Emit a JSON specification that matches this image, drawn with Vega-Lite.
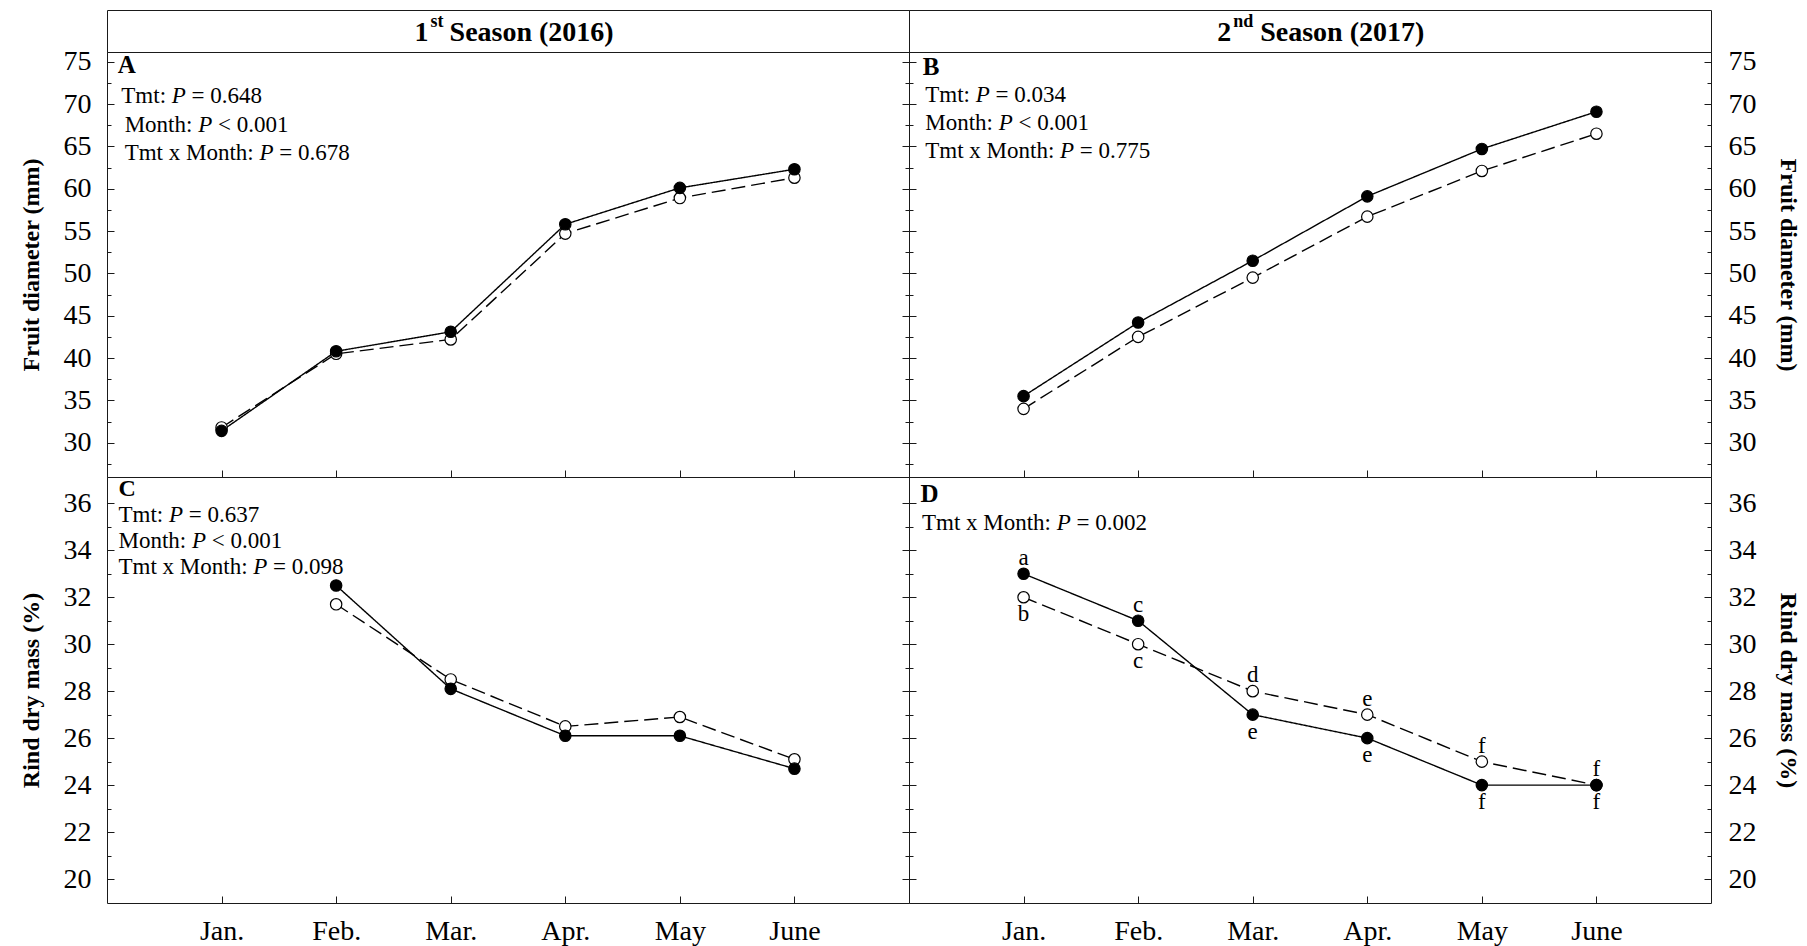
{
  "$schema": "https://vega.github.io/schema/vega-lite/v6.json",
  "background": "white",
  "padding": {"left": 18, "top": 9, "right": 0, "bottom": 0},
  "datasets": {
    "pts": [
      {"panel": "A", "m": 1, "series": "open", "value": 31.8},
      {"panel": "A", "m": 2, "series": "open", "value": 40.5},
      {"panel": "A", "m": 3, "series": "open", "value": 42.2},
      {"panel": "A", "m": 4, "series": "open", "value": 54.7},
      {"panel": "A", "m": 5, "series": "open", "value": 58.9},
      {"panel": "A", "m": 6, "series": "open", "value": 61.3},
      {"panel": "A", "m": 1, "series": "closed", "value": 31.4},
      {"panel": "A", "m": 2, "series": "closed", "value": 40.8},
      {"panel": "A", "m": 3, "series": "closed", "value": 43.1},
      {"panel": "A", "m": 4, "series": "closed", "value": 55.8},
      {"panel": "A", "m": 5, "series": "closed", "value": 60.1},
      {"panel": "A", "m": 6, "series": "closed", "value": 62.3},
      {"panel": "B", "m": 1, "series": "open", "value": 34.0},
      {"panel": "B", "m": 2, "series": "open", "value": 42.5},
      {"panel": "B", "m": 3, "series": "open", "value": 49.5},
      {"panel": "B", "m": 4, "series": "open", "value": 56.7},
      {"panel": "B", "m": 5, "series": "open", "value": 62.1},
      {"panel": "B", "m": 6, "series": "open", "value": 66.5},
      {"panel": "B", "m": 1, "series": "closed", "value": 35.5},
      {"panel": "B", "m": 2, "series": "closed", "value": 44.2},
      {"panel": "B", "m": 3, "series": "closed", "value": 51.5},
      {"panel": "B", "m": 4, "series": "closed", "value": 59.1},
      {"panel": "B", "m": 5, "series": "closed", "value": 64.7},
      {"panel": "B", "m": 6, "series": "closed", "value": 69.1},
      {"panel": "C", "m": 2, "series": "open", "value": 31.7},
      {"panel": "C", "m": 3, "series": "open", "value": 28.5},
      {"panel": "C", "m": 4, "series": "open", "value": 26.5},
      {"panel": "C", "m": 5, "series": "open", "value": 26.9},
      {"panel": "C", "m": 6, "series": "open", "value": 25.1},
      {"panel": "C", "m": 2, "series": "closed", "value": 32.5},
      {"panel": "C", "m": 3, "series": "closed", "value": 28.1},
      {"panel": "C", "m": 4, "series": "closed", "value": 26.1},
      {"panel": "C", "m": 5, "series": "closed", "value": 26.1},
      {"panel": "C", "m": 6, "series": "closed", "value": 24.7},
      {"panel": "D", "m": 1, "series": "open", "value": 32, "letter": "b", "side": "below"},
      {"panel": "D", "m": 2, "series": "open", "value": 30, "letter": "c", "side": "below"},
      {"panel": "D", "m": 3, "series": "open", "value": 28, "letter": "d", "side": "above"},
      {"panel": "D", "m": 4, "series": "open", "value": 27, "letter": "e", "side": "above"},
      {"panel": "D", "m": 5, "series": "open", "value": 25, "letter": "f", "side": "above"},
      {"panel": "D", "m": 6, "series": "open", "value": 24, "letter": "f", "side": "above"},
      {"panel": "D", "m": 1, "series": "closed", "value": 33, "letter": "a", "side": "above"},
      {"panel": "D", "m": 2, "series": "closed", "value": 31, "letter": "c", "side": "above"},
      {"panel": "D", "m": 3, "series": "closed", "value": 27, "letter": "e", "side": "below"},
      {"panel": "D", "m": 4, "series": "closed", "value": 26, "letter": "e", "side": "below"},
      {"panel": "D", "m": 5, "series": "closed", "value": 24, "letter": "f", "side": "below"},
      {"panel": "D", "m": 6, "series": "closed", "value": 24, "letter": "f", "side": "below"}
    ]
  },
  "columns": 2,
  "spacing": 0,
  "bounds": "flush",
  "align": "each",
  "concat": [
    {
      "width": 802, "height": 42,
      "data": {"values": [{}]},
      "encoding": {"x": {"datum": 2.99, "type": "quantitative", "scale": {"domain": [0, 7], "nice": false}, "axis": null}},
      "layer": [
        {"mark": {"type": "text", "text": "Season (2016)", "align": "left", "baseline": "alphabetic", "dy": 10, "fontSize": 28, "fontWeight": "bold"}},
        {"mark": {"type": "text", "text": "st", "align": "right", "baseline": "alphabetic", "dx": -6, "dy": -4, "fontSize": 18, "fontWeight": "bold"}},
        {"mark": {"type": "text", "text": "1", "align": "right", "baseline": "alphabetic", "dx": -21, "dy": 10, "fontSize": 28, "fontWeight": "bold"}}
      ]
    },
    {
      "width": 802, "height": 42,
      "data": {"values": [{}]},
      "encoding": {"x": {"datum": 3.065, "type": "quantitative", "scale": {"domain": [0, 7], "nice": false}, "axis": null}},
      "layer": [
        {"mark": {"type": "text", "text": "Season (2017)", "align": "left", "baseline": "alphabetic", "dy": 10, "fontSize": 28, "fontWeight": "bold"}},
        {"mark": {"type": "text", "text": "nd", "align": "right", "baseline": "alphabetic", "dx": -7, "dy": -4, "fontSize": 18, "fontWeight": "bold"}},
        {"mark": {"type": "text", "text": "2", "align": "right", "baseline": "alphabetic", "dx": -29, "dy": 10, "fontSize": 28, "fontWeight": "bold"}}
      ]
    },
    {
      "width": 802, "height": 425,
      "data": {"name": "pts"},
      "transform": [{"filter": "datum.panel === 'A'"}],
      "layer": [
        {
          "layer": [
            {"mark": {"type": "line", "color": "black", "strokeWidth": 1.4},
             "encoding": {
               "x": {"field": "m", "type": "quantitative", "scale": {"domain": [0, 7], "nice": false},
                     "axis": {"orient": "bottom", "values": [1, 2, 3, 4, 5, 6], "tickSize": -7, "labels": false, "title": null}},
               "y": {"field": "value", "type": "quantitative", "scale": {"domain": [25.95, 76.15], "nice": false},
                     "axis": {"orient": "left", "values": [30, 35, 40, 45, 50, 55, 60, 65, 70, 75], "tickSize": -7, "labelPadding": 23, "title": "Fruit diameter (mm)", "titlePadding": 20}},
               "strokeDash": {"field": "series", "type": "nominal", "scale": {"domain": ["open", "closed"], "range": [[14, 6], [1, 0]]}, "legend": null}}},
            {"mark": {"type": "circle", "size": 130, "stroke": "black", "strokeWidth": 1.2, "opacity": 1},
             "encoding": {
               "x": {"field": "m", "type": "quantitative"},
               "y": {"field": "value", "type": "quantitative"},
               "fill": {"field": "series", "type": "nominal", "scale": {"domain": ["open", "closed"], "range": ["white", "black"]}, "legend": null}}},
            {"transform": [{"aggregate": [{"op": "count", "as": "n"}]}],
             "layer": [
               {"encoding": {"x": {"datum": 0.093, "type": "quantitative", "scale": {"domain": [0, 7], "nice": false}}, "y": {"datum": 73.7, "type": "quantitative", "scale": {"domain": [25.95, 76.15], "nice": false}}},
                "mark": {"type": "text", "text": "A", "fontWeight": "bold", "fontSize": 25}},
               {"encoding": {"x": {"datum": 0.125, "type": "quantitative", "scale": {"domain": [0, 7], "nice": false}}, "y": {"datum": 70.08, "type": "quantitative", "scale": {"domain": [25.95, 76.15], "nice": false}}},
                "layer": [
                  {"mark": {"type": "text", "text": "Tmt:"}},
                  {"mark": {"type": "text", "text": "P", "dx": 50.5, "fontStyle": "italic"}},
                  {"mark": {"type": "text", "text": "= 0.648", "dx": 70.3}}
                ]},
               {"encoding": {"x": {"datum": 0.154, "type": "quantitative", "scale": {"domain": [0, 7], "nice": false}}, "y": {"datum": 66.73, "type": "quantitative", "scale": {"domain": [25.95, 76.15], "nice": false}}},
                "layer": [
                  {"mark": {"type": "text", "text": "Month:"}},
                  {"mark": {"type": "text", "text": "P", "dx": 73.5, "fontStyle": "italic"}},
                  {"mark": {"type": "text", "text": "< 0.001", "dx": 93.3}}
                ]},
               {"encoding": {"x": {"datum": 0.154, "type": "quantitative", "scale": {"domain": [0, 7], "nice": false}}, "y": {"datum": 63.39, "type": "quantitative", "scale": {"domain": [25.95, 76.15], "nice": false}}},
                "layer": [
                  {"mark": {"type": "text", "text": "Tmt x Month:"}},
                  {"mark": {"type": "text", "text": "P", "dx": 134.8, "fontStyle": "italic"}},
                  {"mark": {"type": "text", "text": "= 0.678", "dx": 154.6}}
                ]}
             ]}
          ]
        },
        {"mark": {"type": "point", "opacity": 0},
         "encoding": {"x": {"field": "m", "type": "quantitative"},
                      "y": {"field": "value", "type": "quantitative", "axis": {"orient": "left", "values": [27.5, 32.5, 37.5, 42.5, 47.5, 52.5, 57.5, 62.5, 67.5, 72.5], "tickSize": -4, "labels": false, "title": null}}}},
        {"mark": {"type": "point", "opacity": 0},
         "encoding": {"x": {"field": "m", "type": "quantitative"},
                      "y": {"field": "value", "type": "quantitative", "axis": {"orient": "right", "values": [30, 35, 40, 45, 50, 55, 60, 65, 70, 75], "tickSize": -7, "labels": false, "title": null}}}},
        {"mark": {"type": "point", "opacity": 0},
         "encoding": {"x": {"field": "m", "type": "quantitative"},
                      "y": {"field": "value", "type": "quantitative", "axis": {"orient": "right", "values": [27.5, 32.5, 37.5, 42.5, 47.5, 52.5, 57.5, 62.5, 67.5, 72.5], "tickSize": -4, "labels": false, "title": null}}}}
      ],
      "resolve": {"axis": {"y": "independent"}}
    },
    {
      "width": 802, "height": 425,
      "data": {"name": "pts"},
      "transform": [{"filter": "datum.panel === 'B'"}],
      "layer": [
        {
          "layer": [
            {"mark": {"type": "line", "color": "black", "strokeWidth": 1.4},
             "encoding": {
               "x": {"field": "m", "type": "quantitative", "scale": {"domain": [0, 7], "nice": false},
                     "axis": {"orient": "bottom", "values": [1, 2, 3, 4, 5, 6], "tickSize": -7, "labels": false, "title": null}},
               "y": {"field": "value", "type": "quantitative", "scale": {"domain": [25.95, 76.15], "nice": false},
                     "axis": {"orient": "right", "values": [30, 35, 40, 45, 50, 55, 60, 65, 70, 75], "tickSize": -7, "labelPadding": 24, "title": "Fruit diameter (mm)", "titlePadding": 19}},
               "strokeDash": {"field": "series", "type": "nominal", "scale": {"domain": ["open", "closed"], "range": [[14, 6], [1, 0]]}, "legend": null}}},
            {"mark": {"type": "circle", "size": 130, "stroke": "black", "strokeWidth": 1.2, "opacity": 1},
             "encoding": {
               "x": {"field": "m", "type": "quantitative"},
               "y": {"field": "value", "type": "quantitative"},
               "fill": {"field": "series", "type": "nominal", "scale": {"domain": ["open", "closed"], "range": ["white", "black"]}, "legend": null}}},
            {"transform": [{"aggregate": [{"op": "count", "as": "n"}]}],
             "layer": [
               {"encoding": {"x": {"datum": 0.12, "type": "quantitative", "scale": {"domain": [0, 7], "nice": false}}, "y": {"datum": 73.45, "type": "quantitative", "scale": {"domain": [25.95, 76.15], "nice": false}}},
                "mark": {"type": "text", "text": "B", "fontWeight": "bold", "fontSize": 25}},
               {"encoding": {"x": {"datum": 0.142, "type": "quantitative", "scale": {"domain": [0, 7], "nice": false}}, "y": {"datum": 70.27, "type": "quantitative", "scale": {"domain": [25.95, 76.15], "nice": false}}},
                "layer": [
                  {"mark": {"type": "text", "text": "Tmt:"}},
                  {"mark": {"type": "text", "text": "P", "dx": 50.5, "fontStyle": "italic"}},
                  {"mark": {"type": "text", "text": "= 0.034", "dx": 70.3}}
                ]},
               {"encoding": {"x": {"datum": 0.142, "type": "quantitative", "scale": {"domain": [0, 7], "nice": false}}, "y": {"datum": 66.93, "type": "quantitative", "scale": {"domain": [25.95, 76.15], "nice": false}}},
                "layer": [
                  {"mark": {"type": "text", "text": "Month:"}},
                  {"mark": {"type": "text", "text": "P", "dx": 73.5, "fontStyle": "italic"}},
                  {"mark": {"type": "text", "text": "< 0.001", "dx": 93.3}}
                ]},
               {"encoding": {"x": {"datum": 0.142, "type": "quantitative", "scale": {"domain": [0, 7], "nice": false}}, "y": {"datum": 63.62, "type": "quantitative", "scale": {"domain": [25.95, 76.15], "nice": false}}},
                "layer": [
                  {"mark": {"type": "text", "text": "Tmt x Month:"}},
                  {"mark": {"type": "text", "text": "P", "dx": 134.8, "fontStyle": "italic"}},
                  {"mark": {"type": "text", "text": "= 0.775", "dx": 154.6}}
                ]}
             ]}
          ]
        },
        {"mark": {"type": "point", "opacity": 0},
         "encoding": {"x": {"field": "m", "type": "quantitative"},
                      "y": {"field": "value", "type": "quantitative", "axis": {"orient": "right", "values": [27.5, 32.5, 37.5, 42.5, 47.5, 52.5, 57.5, 62.5, 67.5, 72.5], "tickSize": -4, "labels": false, "title": null}}}},
        {"mark": {"type": "point", "opacity": 0},
         "encoding": {"x": {"field": "m", "type": "quantitative"},
                      "y": {"field": "value", "type": "quantitative", "axis": {"orient": "left", "values": [30, 35, 40, 45, 50, 55, 60, 65, 70, 75], "tickSize": -7, "labels": false, "title": null}}}},
        {"mark": {"type": "point", "opacity": 0},
         "encoding": {"x": {"field": "m", "type": "quantitative"},
                      "y": {"field": "value", "type": "quantitative", "axis": {"orient": "left", "values": [27.5, 32.5, 37.5, 42.5, 47.5, 52.5, 57.5, 62.5, 67.5, 72.5], "tickSize": -4, "labels": false, "title": null}}}}
      ],
      "resolve": {"axis": {"y": "independent"}}
    },
    {
      "width": 802, "height": 426,
      "data": {"name": "pts"},
      "transform": [{"filter": "datum.panel === 'C'"}],
      "layer": [
        {
          "layer": [
            {"mark": {"type": "line", "color": "black", "strokeWidth": 1.4},
             "encoding": {
               "x": {"field": "m", "type": "quantitative", "scale": {"domain": [0, 7], "nice": false},
                     "axis": {"orient": "bottom", "values": [1, 2, 3, 4, 5, 6], "tickSize": -7, "labelPadding": 21,
                              "labelExpr": "['', 'Jan.', 'Feb.', 'Mar.', 'Apr.', 'May', 'June'][datum.value]", "title": null}},
               "y": {"field": "value", "type": "quantitative", "scale": {"domain": [18.98, 37.12], "nice": false},
                     "axis": {"orient": "left", "values": [20, 22, 24, 26, 28, 30, 32, 34, 36], "tickSize": -7, "labelPadding": 23, "title": "Rind dry mass (%)", "titlePadding": 20}},
               "strokeDash": {"field": "series", "type": "nominal", "scale": {"domain": ["open", "closed"], "range": [[14, 6], [1, 0]]}, "legend": null}}},
            {"mark": {"type": "circle", "size": 130, "stroke": "black", "strokeWidth": 1.2, "opacity": 1},
             "encoding": {
               "x": {"field": "m", "type": "quantitative"},
               "y": {"field": "value", "type": "quantitative"},
               "fill": {"field": "series", "type": "nominal", "scale": {"domain": ["open", "closed"], "range": ["white", "black"]}, "legend": null}}},
            {"transform": [{"aggregate": [{"op": "count", "as": "n"}]}],
             "layer": [
               {"encoding": {"x": {"datum": 0.1, "type": "quantitative", "scale": {"domain": [0, 7], "nice": false}}, "y": {"datum": 36.3, "type": "quantitative", "scale": {"domain": [18.98, 37.12], "nice": false}}},
                "mark": {"type": "text", "text": "C", "fontWeight": "bold", "fontSize": 24}},
               {"encoding": {"x": {"datum": 0.1, "type": "quantitative", "scale": {"domain": [0, 7], "nice": false}}, "y": {"datum": 35.2, "type": "quantitative", "scale": {"domain": [18.98, 37.12], "nice": false}}},
                "layer": [
                  {"mark": {"type": "text", "text": "Tmt:"}},
                  {"mark": {"type": "text", "text": "P", "dx": 50.5, "fontStyle": "italic"}},
                  {"mark": {"type": "text", "text": "= 0.637", "dx": 70.3}}
                ]},
               {"encoding": {"x": {"datum": 0.1, "type": "quantitative", "scale": {"domain": [0, 7], "nice": false}}, "y": {"datum": 34.1, "type": "quantitative", "scale": {"domain": [18.98, 37.12], "nice": false}}},
                "layer": [
                  {"mark": {"type": "text", "text": "Month:"}},
                  {"mark": {"type": "text", "text": "P", "dx": 73.5, "fontStyle": "italic"}},
                  {"mark": {"type": "text", "text": "< 0.001", "dx": 93.3}}
                ]},
               {"encoding": {"x": {"datum": 0.1, "type": "quantitative", "scale": {"domain": [0, 7], "nice": false}}, "y": {"datum": 33.0, "type": "quantitative", "scale": {"domain": [18.98, 37.12], "nice": false}}},
                "layer": [
                  {"mark": {"type": "text", "text": "Tmt x Month:"}},
                  {"mark": {"type": "text", "text": "P", "dx": 134.8, "fontStyle": "italic"}},
                  {"mark": {"type": "text", "text": "= 0.098", "dx": 154.6}}
                ]}
             ]}
          ]
        },
        {"mark": {"type": "point", "opacity": 0},
         "encoding": {"x": {"field": "m", "type": "quantitative"},
                      "y": {"field": "value", "type": "quantitative", "axis": {"orient": "left", "values": [21, 23, 25, 27, 29, 31, 33, 35], "tickSize": -4, "labels": false, "title": null}}}},
        {"mark": {"type": "point", "opacity": 0},
         "encoding": {"x": {"field": "m", "type": "quantitative"},
                      "y": {"field": "value", "type": "quantitative", "axis": {"orient": "right", "values": [20, 22, 24, 26, 28, 30, 32, 34, 36], "tickSize": -7, "labels": false, "title": null}}}},
        {"mark": {"type": "point", "opacity": 0},
         "encoding": {"x": {"field": "m", "type": "quantitative"},
                      "y": {"field": "value", "type": "quantitative", "axis": {"orient": "right", "values": [21, 23, 25, 27, 29, 31, 33, 35], "tickSize": -4, "labels": false, "title": null}}}}
      ],
      "resolve": {"axis": {"y": "independent"}}
    },
    {
      "width": 802, "height": 426,
      "data": {"name": "pts"},
      "transform": [{"filter": "datum.panel === 'D'"}],
      "layer": [
        {
          "layer": [
            {"mark": {"type": "line", "color": "black", "strokeWidth": 1.4},
             "encoding": {
               "x": {"field": "m", "type": "quantitative", "scale": {"domain": [0, 7], "nice": false},
                     "axis": {"orient": "bottom", "values": [1, 2, 3, 4, 5, 6], "tickSize": -7, "labelPadding": 21,
                              "labelExpr": "['', 'Jan.', 'Feb.', 'Mar.', 'Apr.', 'May', 'June'][datum.value]", "title": null}},
               "y": {"field": "value", "type": "quantitative", "scale": {"domain": [18.98, 37.12], "nice": false},
                     "axis": {"orient": "right", "values": [20, 22, 24, 26, 28, 30, 32, 34, 36], "tickSize": -7, "labelPadding": 24, "title": "Rind dry mass (%)", "titlePadding": 19}},
               "strokeDash": {"field": "series", "type": "nominal", "scale": {"domain": ["open", "closed"], "range": [[14, 6], [1, 0]]}, "legend": null}}},
            {"mark": {"type": "circle", "size": 130, "stroke": "black", "strokeWidth": 1.2, "opacity": 1},
             "encoding": {
               "x": {"field": "m", "type": "quantitative"},
               "y": {"field": "value", "type": "quantitative"},
               "fill": {"field": "series", "type": "nominal", "scale": {"domain": ["open", "closed"], "range": ["white", "black"]}, "legend": null}}},
            {"transform": [{"filter": "datum.side === 'above'"}],
             "mark": {"type": "text", "align": "center", "baseline": "middle", "dy": -16, "fontSize": 23},
             "encoding": {
               "x": {"field": "m", "type": "quantitative"},
               "y": {"field": "value", "type": "quantitative"},
               "text": {"field": "letter"}}},
            {"transform": [{"filter": "datum.side === 'below'"}],
             "mark": {"type": "text", "align": "center", "baseline": "middle", "dy": 17, "fontSize": 23},
             "encoding": {
               "x": {"field": "m", "type": "quantitative"},
               "y": {"field": "value", "type": "quantitative"},
               "text": {"field": "letter"}}},
            {"transform": [{"aggregate": [{"op": "count", "as": "n"}]}],
             "layer": [
               {"encoding": {"x": {"datum": 0.1, "type": "quantitative", "scale": {"domain": [0, 7], "nice": false}}, "y": {"datum": 36.07, "type": "quantitative", "scale": {"domain": [18.98, 37.12], "nice": false}}},
                "mark": {"type": "text", "text": "D", "fontWeight": "bold", "fontSize": 25}},
               {"encoding": {"x": {"datum": 0.113, "type": "quantitative", "scale": {"domain": [0, 7], "nice": false}}, "y": {"datum": 34.87, "type": "quantitative", "scale": {"domain": [18.98, 37.12], "nice": false}}},
                "layer": [
                  {"mark": {"type": "text", "text": "Tmt x Month:"}},
                  {"mark": {"type": "text", "text": "P", "dx": 134.8, "fontStyle": "italic"}},
                  {"mark": {"type": "text", "text": "= 0.002", "dx": 154.6}}
                ]}
             ]}
          ]
        },
        {"mark": {"type": "point", "opacity": 0},
         "encoding": {"x": {"field": "m", "type": "quantitative"},
                      "y": {"field": "value", "type": "quantitative", "axis": {"orient": "right", "values": [21, 23, 25, 27, 29, 31, 33, 35], "tickSize": -4, "labels": false, "title": null}}}},
        {"mark": {"type": "point", "opacity": 0},
         "encoding": {"x": {"field": "m", "type": "quantitative"},
                      "y": {"field": "value", "type": "quantitative", "axis": {"orient": "left", "values": [20, 22, 24, 26, 28, 30, 32, 34, 36], "tickSize": -7, "labels": false, "title": null}}}},
        {"mark": {"type": "point", "opacity": 0},
         "encoding": {"x": {"field": "m", "type": "quantitative"},
                      "y": {"field": "value", "type": "quantitative", "axis": {"orient": "left", "values": [21, 23, 25, 27, 29, 31, 33, 35], "tickSize": -4, "labels": false, "title": null}}}}
      ],
      "resolve": {"axis": {"y": "independent"}}
    }
  ],
  "config": {
    "font": "Liberation Serif",
    "view": {"stroke": "#1a1a1a", "strokeWidth": 1},
    "axis": {
      "domain": false, "grid": false,
      "tickColor": "#1a1a1a", "tickWidth": 1,
      "labelFont": "Liberation Serif", "labelFontSize": 28, "labelColor": "black",
      "labelFlush": false, "labelOverlap": false,
      "titleFont": "Liberation Serif", "titleFontSize": 24, "titleFontWeight": "bold", "titleColor": "black"
    },
    "text": {"font": "Liberation Serif", "fontSize": 23, "align": "left", "baseline": "alphabetic", "color": "black"}
  }
}
